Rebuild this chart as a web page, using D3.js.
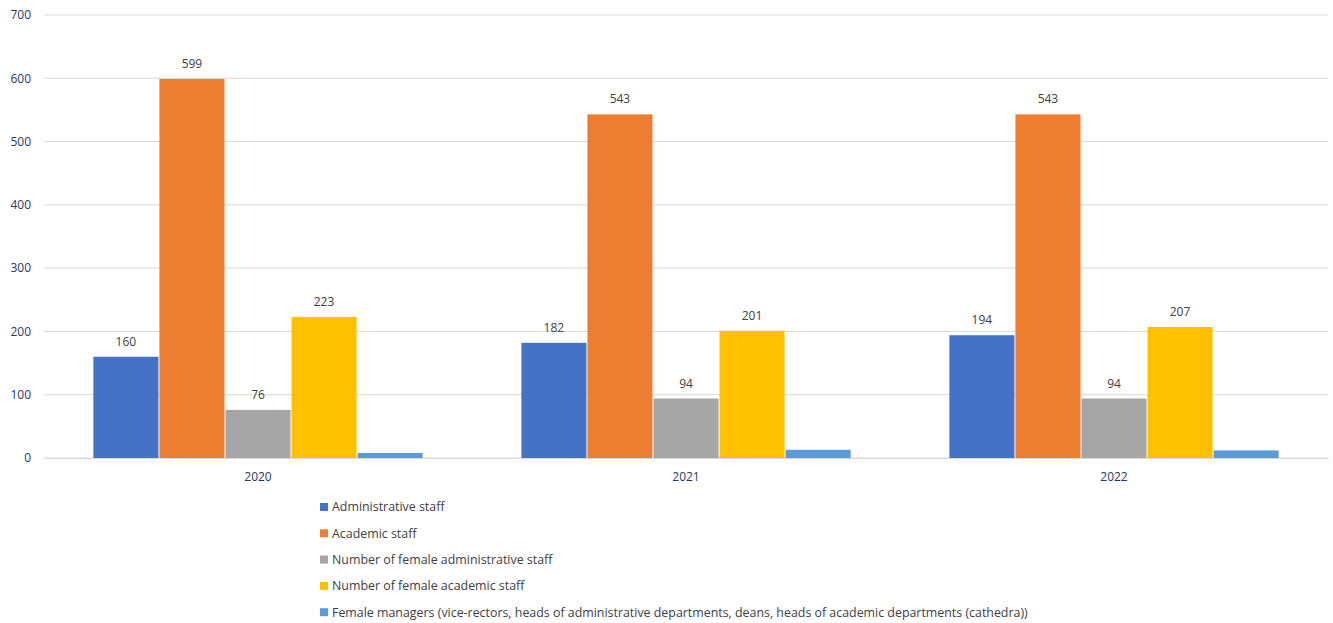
<!DOCTYPE html>
<html>
<head>
<meta charset="utf-8">
<script src="https://cdn.jsdelivr.net/npm/d3@7"></script>
<style>
  body { margin: 0; background: #fff; }
  text { font-family: "Open Sans", "Noto Sans", sans-serif; }
</style>
</head>
<body>
<div id="chart"></div>
<script>
// categories and series
const years = ['2020', '2021', '2022'];
const seriesNames = [
  'Administrative staff',
  'Academic staff',
  'Number of female administrative staff',
  'Number of female academic staff',
  'Female managers (vice-rectors, heads of administrative departments, deans, heads of academic departments (cathedra))'
];
const adminStaff = [160, 182, 194];
const academicStaff = [599, 543, 543];
const femaleAdmin = [76, 94, 94];
const femaleAcademic = [223, 201, 207];
const femaleManagers = [8, 13, 12];
const showLabel = [true, true, true, true, false];
const yTicks = [0, 100, 200, 300, 400, 500, 600, 700];

const colors = ['#4472c4', '#ed7d31', '#a5a5a5', '#ffc000', '#5b9bd5'];
const seriesValues = [adminStaff, academicStaff, femaleAdmin, femaleAcademic, femaleManagers];

let W = 1333, H = 623;
let margin = { top: 15, left: 44, right: 5, bottom: 165 },
  width = W - margin.left - margin.right,
  height = H - margin.top - margin.bottom;

let svg = d3.select('#chart').append('svg')
  .attr('width', W)
  .attr('height', H);

let g = svg.append('g')
  .attr('transform', 'translate(' + margin.left + ',' + margin.top + ')');

let x0 = d3.scaleBand().domain(years).range([0, width]).paddingInner(0).paddingOuter(0);
let x1 = d3.scaleBand().domain(d3.range(seriesNames.length))
  .range([0, x0.bandwidth()]).paddingOuter(0.74).paddingInner(0);
let y = d3.scaleLinear().domain([0, 700]).range([height, 0]);

// gridlines
g.selectAll('line.grid').data(yTicks)
  .enter().append('line')
    .attr('class', 'grid')
    .attr('x1', 0).attr('x2', width)
    .attr('y1', d => y(d)).attr('y2', d => y(d))
    .attr('stroke', '#d9d9d9')
    .attr('stroke-width', 1);

// y axis labels
let yAxis = g.append('g')
  .call(d3.axisLeft(y).tickValues(yTicks).tickSize(0).tickPadding(13));
yAxis.select('.domain').remove();
yAxis.selectAll('text')
  .attr('fill', '#1f3864')
  .style('font-size', '12px');

// x axis labels
let xAxis = g.append('g')
  .attr('transform', 'translate(0,' + height + ')')
  .call(d3.axisBottom(x0).tickSize(0).tickPadding(14));
xAxis.select('.domain').attr('stroke', '#d9d9d9');
xAxis.selectAll('text')
  .attr('fill', '#1f3864')
  .style('font-size', '12px');

// bars
let rows = [];
years.forEach((yr, i) => {
  seriesValues.forEach((vals, s) => {
    rows.push({ year: yr, s: s, value: vals[i] });
  });
});

g.selectAll('rect.bar').data(rows)
  .enter().append('rect')
    .attr('class', 'bar')
    .attr('x', d => x0(d.year) + x1(d.s) + 0.5)
    .attr('width', x1.bandwidth() - 1)
    .attr('y', d => y(d.value))
    .attr('height', d => y(0) - y(d.value))
    .attr('fill', d => colors[d.s]);

g.selectAll('text.val').data(rows.filter(d => showLabel[d.s]))
  .enter().append('text')
    .attr('class', 'val')
    .attr('x', d => x0(d.year) + x1(d.s) + x1.bandwidth() / 2)
    .attr('y', d => y(d.value) - 11)
    .attr('text-anchor', 'middle')
    .attr('fill', '#404040')
    .style('font-size', '12px')
    .text(d => d.value);

// legend
let legend = svg.append('g')
  .attr('transform', 'translate(320,507)');

legend.selectAll('rect').data(seriesNames)
  .enter().append('rect')
    .attr('x', 0)
    .attr('y', (d, i) => i * 26.3 - 4)
    .attr('width', 8).attr('height', 8)
    .attr('fill', (d, i) => colors[i]);

legend.selectAll('text').data(seriesNames)
  .enter().append('text')
    .attr('x', 12)
    .attr('y', (d, i) => i * 26.3)
    .attr('dy', '0.35em')
    .attr('fill', '#404040')
    .style('font-size', '12.4px')
    .text(d => d);
</script>
</body>
</html>
